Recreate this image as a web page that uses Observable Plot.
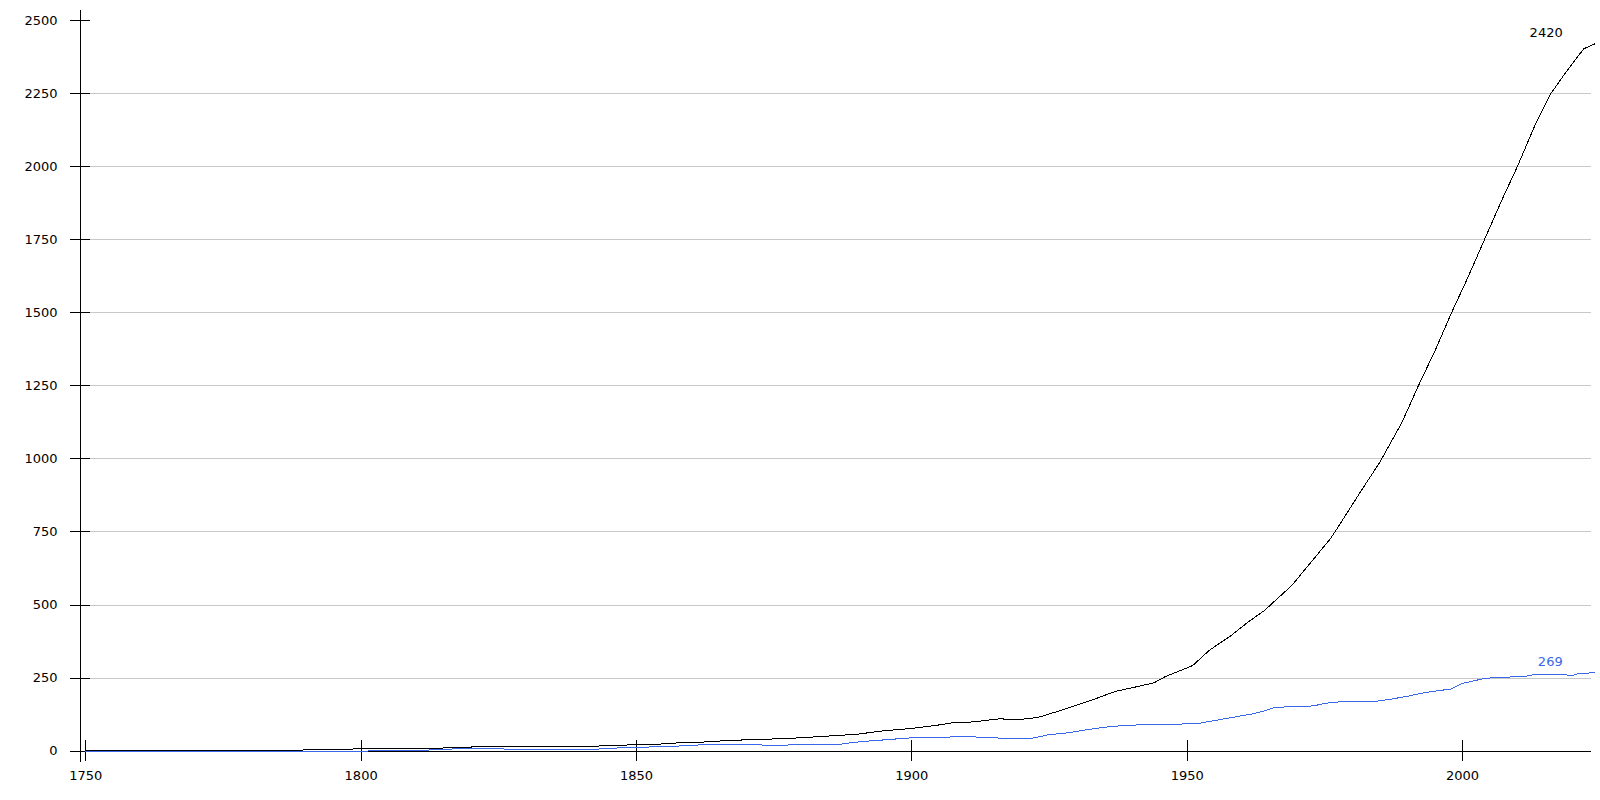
<!DOCTYPE html>
<html>
<head>
<meta charset="utf-8">
<script src="https://cdn.jsdelivr.net/npm/d3@7"></script>
<script src="https://cdn.jsdelivr.net/npm/@observablehq/plot@0.6"></script>
<style>
  html, body { margin: 0; padding: 0; background: #fff; }
  #chart svg { display: block; shape-rendering: crispEdges; }
</style>
</head>
<body>
<div id="chart"></div>
<script>
// Black series (years, values)
const blackYears = [1750,1789,1790,1807,1811,1815,1821,1842,1848,1854,1858,1862,1866,1870,1875,1880,1885,1890,1895,1900,1905,1908,1911,1916,1919,1923,1928,1933,1937,1940,1944,1946,1951,1954,1958,1961,1964,1969,1976,1977,1982,1985,1989,1992,1995,1998,2001,2004,2007,2010,2013,2016,2019,2022,2024];
const blackValues = [2,2,7,8,9,11,15,17,21,24,29,31,36,39,42,46,52,58,70,78,90,99,100,111,107,116,145,177,205,217,234,255,293,345,396,441,481,567,727,755,903,989,1125,1251,1370,1500,1622,1751,1880,2002,2135,2249,2329,2403,2420];

// Blue series (years, values)
const blueYears = [1750,1790,1807,1811,1817,1836,1839,1842,1845,1850,1855,1858,1862,1872,1874,1876,1880,1887,1889,1891,1900,1908,1911,1913,1919,1922,1925,1928,1932,1935,1938,1941,1947,1950,1952,1958,1962,1964,1966,1973,1975,1979,1982,1984,1987,1990,1993,1996,1998,2000,2004,2007,2011,2013,2018,2020,2021,2024];
const blueValues = [0,0,1,3,8,7,5,6,10,13,16,18,22,23,18,20,23,24,29,33,46,49,50,46,44,45,57,62,74,82,87,90,91,94,95,115,128,138,150,155,164,171,171,170,178,188,200,208,213,232,249,253,255,262,262,259,265,269];

// Tick values
const xTicks = [1750,1800,1850,1900,1950,2000];
const yTicks = [0,250,500,750,1000,1250,1500,1750,2000,2250,2500];
const gridTicks = [250,500,750,1000,1250,1500,1750,2000,2250];

const black = blackYears.map((y, i) => ({year: y, value: blackValues[i]}));
const blue = blueYears.map((y, i) => ({year: y, value: blueValues[i]}));
const blueColor = "#3a66e8";

const chart = Plot.plot({
  width: 1600,
  height: 800,
  marginLeft: 80,
  marginRight: 9,
  marginTop: 10,
  marginBottom: 39,
  style: {fontFamily: "'DejaVu Sans', Verdana, sans-serif", fontSize: "13px", color: "black", background: "white"},
  x: {domain: [1750, 2024], range: [85.3, 1594.2]},
  y: {domain: [0, 2500], range: [750.7, 20]},
  marks: [
    Plot.gridY(gridTicks, {stroke: "#c8c8c8", strokeOpacity: 1}),
    Plot.frame({anchor: "left", stroke: "black"}),
    Plot.ruleY([0], {stroke: "black"}),
    Plot.axisY(yTicks, {anchor: "left", tickSize: 20, dx: 10, tickPadding: 13, label: null, tickFormat: d => String(d), fontSize: 13}),
    Plot.axisX(xTicks, {anchor: "bottom", tickSize: 21, dy: -21, tickPadding: 9, label: null, tickFormat: d => String(d), fontSize: 13}),
    Plot.line(black, {x: "year", y: "value", stroke: "black", strokeWidth: 1}),
    Plot.line(blue, {x: "year", y: "value", stroke: blueColor, strokeWidth: 1}),
    Plot.text([black[black.length - 1]], {x: "year", y: "value", text: d => String(d.value), textAnchor: "end", dx: -32, dy: -11, fill: "black", fontSize: 13}),
    Plot.text([blue[blue.length - 1]], {x: "year", y: "value", text: d => String(d.value), textAnchor: "end", dx: -32, dy: -11, fill: blueColor, fontSize: 13})
  ]
});
document.getElementById("chart").appendChild(chart);
</script>
</body>
</html>
